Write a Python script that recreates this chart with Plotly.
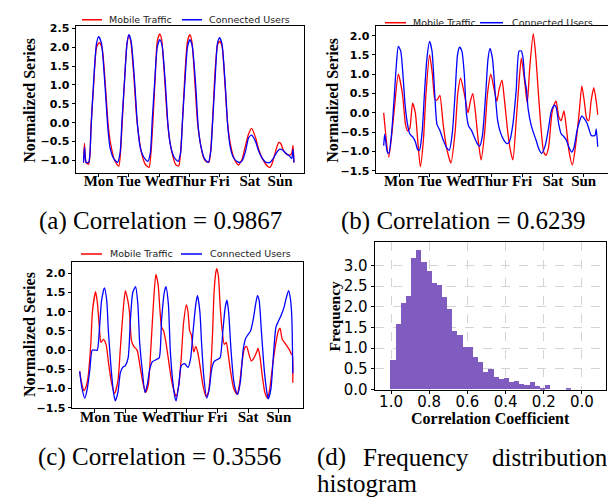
import numpy as np
import plotly.graph_objects as go

# ---------------- data ----------------
day_ticks = [12, 36, 60, 84, 108, 132, 156]
day_labels = ["Mon", "Tue", "Wed", "Thur", "Fri", "Sat", "Sun"]
series_names = ["Mobile Traffic", "Connected Users"]

# (a) correlation = 0.9867
a_mobile_h = [0, 0.7, 2, 4, 5, 6, 8, 10.3, 12.5, 14.6, 17.3, 19.4, 21.2, 24.7, 28, 29.5, 31, 33, 34.5, 36, 37.5, 40, 42, 44, 46,
              49, 52, 53.5, 55, 57, 58.5, 60.5, 62, 64.5, 66.5, 68.5, 71, 73, 75.5, 77, 78.5, 80.5, 82.5, 84.4, 86, 88.5, 90.5,
              92.5, 95, 97, 99.5, 101, 102.5, 104.5, 106.3, 108, 109.8, 112.3, 114.3, 116.5, 119, 121, 123, 124.5, 126, 128.6,
              131, 133.4, 136.6, 139, 142, 146, 148, 150, 152.5, 155, 156.5, 159, 162, 164, 165.3, 166.3, 167]
a_mobile_v = [-1.05, -0.55, -1.05, -1.1, -0.9, -0.05, 1.0, 2.0, 2.12, 2.0, 1.0, 0.0, -0.5, -1.0, -1.15, -0.7, 0.2, 1.4, 2.1, 2.3,
              2.15, 1.2, 0.2, -0.4, -0.8, -1.1, -1.18, -0.8, 0.0, 1.3, 2.15, 2.35, 2.2, 1.1, 0.1, -0.5, -0.9, -1.1, -1.15, -0.8,
              0.0, 1.3, 2.15, 2.33, 2.15, 1.0, 0.0, -0.5, -0.9, -1.02, -1.05, -0.7, 0.1, 1.4, 2.05, 2.15, 2.05, 1.0, 0.0, -0.55,
              -0.9, -1.05, -1.12, -1.05, -0.95, -0.6, -0.3, -0.15, -0.4, -0.7, -0.95, -1.15, -1.18, -1.05, -0.75, -0.52, -0.55,
              -0.75, -0.85, -0.85, -0.8, -0.6, -1.05]
a_users_h = [0, 0.7, 2, 4, 5, 6, 8, 10.3, 12, 14.2, 17, 19.2, 21, 24, 27, 29, 30.5, 32.5, 34.5, 36, 37.8, 40.5, 42.8, 45, 48, 51,
             53, 54.5, 56.5, 58.5, 60.5, 62.3, 65, 67, 69, 72, 75, 77, 78.5, 80.5, 82.5, 84.4, 86.2, 89, 91, 93, 96, 99, 101,
             102.5, 104.5, 106.3, 108, 109.8, 112.5, 114.5, 116.5, 119, 122, 124.5, 126, 128.6, 131, 133.4, 136.6, 139, 142,
             145, 148, 150.5, 153.5, 155.7, 158, 161, 163.5, 165.3, 166.3, 167]
a_users_v = [-1.05, -0.65, -1.05, -1.05, -0.85, -0.1, 1.1, 2.1, 2.28, 2.1, 1.0, -0.1, -0.65, -0.95, -1.05, -0.8, 0.05, 1.1, 2.1,
             2.33, 2.15, 1.1, -0.05, -0.65, -0.92, -1.02, -0.8, 0.05, 1.1, 2.0, 2.2, 2.05, 1.0, -0.05, -0.6, -0.92, -1.02, -0.8,
             0.05, 1.1, 2.0, 2.2, 2.05, 1.0, -0.1, -0.6, -0.95, -1.05, -0.75, 0.05, 1.2, 2.1, 2.25, 2.1, 1.0, -0.1, -0.65, -0.92,
             -1.03, -1.05, -1.0, -0.75, -0.4, -0.33, -0.5, -0.75, -0.95, -1.05, -1.05, -0.95, -0.78, -0.7, -0.72, -0.82, -0.88,
             -0.95, -0.7, -1.05]

# (b) correlation = 0.6239
b_mobile_h = [0, 4, 8, 11.4, 14.6, 17, 18.6, 20.4, 22.5, 24.7, 26.5, 28.6, 31, 33, 35.8, 38, 40, 41.6, 43.8, 46.4, 49, 52.5,
              55.7, 57.8, 60, 62.9, 65.8, 67.6, 69.5, 71.6, 73.7, 76, 78.8, 81, 83.6, 86.2, 88.3, 90, 92.3, 94, 96.8, 99, 100.8,
              103.4, 105.6, 107.4, 110, 112, 114, 116.7, 118.6, 120.7, 122.5, 124.7, 126.5, 128.6, 131.3, 133.4, 134.5, 136.6,
              138.5, 140.6, 142.4, 144.6, 147.2, 149.9, 152.5, 154.6, 156.5, 158.4, 160, 161.8, 163.9, 165.8, 167]
b_mobile_v = [0.0, -1.15, 0.0, 1.0, 0.5, -0.3, -0.47, -0.4, 0.25, 0.0, -0.7, -1.4, -0.7, 0.5, 1.5, 1.0, 0.35, 0.33, 0.45, -0.3,
              -0.9, -1.3, -0.5, 0.5, 0.9, 0.5, 0.0, 0.3, 0.5, 0.0, -0.7, -1.22, -0.5, 0.5, 1.0, 0.6, 0.3, 0.6, 0.85, 0.4, -0.5,
              -1.0, -1.22, -0.2, 0.8, 1.42, 0.8, 0.25, 1.2, 2.05, 1.5, 0.5, -0.3, -1.0, -1.1, -0.9, 0.0, 0.25, 0.3, -0.1, -0.2,
              0.05, -0.35, -1.0, -1.35, -0.8, 0.0, 0.7, 0.3, -0.15, -0.2, 0.3, 0.65, 0.3, -0.05]
b_users_h = [0, 0.8, 2.7, 4, 6, 8, 9.8, 11.4, 13.3, 15, 16.7, 18.6, 20.4, 22.5, 24.7, 26.5, 27.9, 30, 31.8, 33.7, 35.8, 37.7,
             39.8, 41.6, 43.8, 46.4, 49, 51.2, 53.6, 55.7, 57.6, 59.2, 61, 62.9, 64.5, 66.3, 68.4, 70.3, 73, 74.8, 77, 79.6,
             81.4, 83, 84.9, 87, 88.9, 91, 93.6, 96.3, 98.1, 100.8, 103.4, 105.6, 107.4, 108.8, 110, 111.4, 112.7, 114.9,
             116.7, 118.8, 121.2, 123.3, 126, 128.6, 130.8, 133.2, 134.5, 136.6, 138.5, 140.6, 142.4, 144.6, 146.7, 148.5,
             150.6, 152.5, 154.6, 156.5, 158.4, 160, 161.8, 163.7, 165, 165.8, 167]
b_users_v = [-0.85, -0.55, -1.0, -1.05, -0.6, 0.3, 1.2, 1.72, 1.6, 1.0, 0.2, -0.3, -0.55, -0.62, -0.75, -0.95, -0.97, -0.5, 0.5,
             1.4, 1.85, 1.6, 0.5, -0.3, -0.45, -0.7, -0.9, -0.97, -0.5, 0.5, 1.5, 1.7, 1.6, 1.0, 0.0, -0.35, -0.45, -0.6, -0.8,
             -0.87, -0.6, 0.5, 1.4, 1.67, 1.4, 0.5, -0.2, -0.5, -0.7, -0.8, -0.75, -0.3, 0.6, 1.6, 1.6, 1.4, 0.9, 0.6, 0.1,
             -0.3, -0.5, -0.7, -0.95, -1.05, -0.85, -0.4, 0.05, 0.2, 0.15, -0.3, -0.55, -0.62, -0.7, -0.9, -1.02, -0.9, -0.5,
             -0.25, -0.08, -0.15, -0.25, -0.4, -0.58, -0.6, -0.58, -0.42, -0.88]

# (c) correlation = 0.3556
c_mobile_h = [0, 1.5, 3.4, 5, 6.6, 8.8, 10, 12.5, 14, 15.4, 16.7, 18.6, 20.7, 22.5, 24.7, 27.3, 30, 31.8, 34, 35.8, 37.7, 39,
              40.6, 42.4, 45, 47.7, 49.9, 51.7, 53.8, 55.7, 57.8, 59.7, 61.5, 62.9, 64.2, 65.8, 67.6, 69.8, 72.1, 74.3, 75.6,
              77.7, 79.6, 81.4, 83.6, 84.9, 86.2, 87.5, 89.4, 91, 92.8, 94.7, 96.8, 99, 100.8, 102.7, 104.2, 105.3, 106.6,
              107.4, 108.8, 110, 111.4, 113.3, 114.9, 116, 118, 120.7, 123.3, 125.2, 127.3, 129.2, 130.8, 132.6, 134.5, 136.6,
              138.7, 139.8, 141.4, 143.2, 145.1, 147.2, 149, 151.2, 153.8, 155.7, 157, 158.6, 160.5, 162.6, 164.5, 165.8,
              166.6, 167]
c_mobile_v = [-0.55, -0.85, -1.05, -0.95, -0.7, 0.2, 1.0, 1.52, 1.2, 0.6, 0.2, 0.28, 0.15, -0.3, -0.8, -1.13, -0.8, 0.0, 1.0,
              1.55, 1.3, 1.0, 0.25, 0.1, 0.0, -0.5, -0.9, -1.1, -0.9, 0.0, 1.2, 1.97, 1.7, 1.05, 0.6, 0.5, 0.2, -0.3, -0.8, -1.1,
              -1.2, -0.9, -0.2, 0.7, 1.18, 1.0, 0.5, 0.4, -0.05, 0.1, -0.1, -0.5, -0.95, -1.2, -1.1, -0.5, 0.5, 1.5, 2.0, 2.12,
              1.9, 1.2, 0.6, 0.15, 0.2, 0.0, -0.5, -1.0, -1.15, -0.9, -0.3, 0.05, 0.1, -0.1, -0.28, -0.2, -0.05, 0.05, -0.2,
              -0.7, -1.1, -1.25, -1.0, -0.4, 0.2, 0.5, 0.57, 0.3, 0.2, 0.1, 0.0, -0.1, -0.12, -0.85]
c_users_h = [0, 1.9, 4, 6, 8, 9.8, 12, 13.8, 15.4, 17.2, 19.4, 21.2, 22.5, 24.7, 26.5, 27.9, 30, 31.8, 33.7, 35.8, 38, 39.8,
             41.6, 43.8, 45.6, 47, 49, 51.2, 53, 54.9, 57, 59.7, 62.3, 64.2, 66.3, 67.6, 69.5, 71, 72.9, 74.8, 75.6, 77.7,
             79.6, 82.2, 84.9, 87, 88.9, 91, 92.3, 94.2, 95.5, 97.3, 99.5, 101.6, 103.4, 105.3, 107.4, 110, 112.2, 114, 115.4,
             116.7, 118.6, 120.7, 122.8, 123.9, 126, 128.1, 130, 131.8, 133.9, 136, 137.9, 139.3, 140.6, 142.4, 144.6, 146.7,
             147.7, 149.9, 151.7, 153.8, 155.7, 157.8, 160, 161.8, 163.7, 165.3, 166.3, 167]
c_users_v = [-0.55, -1.0, -1.25, -1.0, -0.5, 0.0, 0.0, 0.0, 0.5, 1.3, 1.62, 1.3, 0.5, -0.5, -1.1, -1.32, -1.1, -0.6, -0.45, -0.4,
             -0.2, 0.8, 1.5, 1.65, 1.2, 0.2, -0.5, -1.1, -0.9, -0.5, -0.3, -0.25, -0.2, 0.8, 1.5, 1.65, 1.2, 0.0, -0.8, -1.25,
             -1.32, -0.9, -0.4, -0.35, -0.45, -0.2, 0.5, 1.2, 1.42, 1.0, 0.2, -0.7, -1.25, -1.0, -0.5, -0.3, -0.25, -0.2, 0.5,
             1.1, 1.3, 1.0, 0.0, -0.8, -1.1, -1.15, -0.8, 0.0, 0.3, 0.4, 0.5, 0.8, 1.2, 1.42, 1.3, 0.5, -0.5, -1.1, -1.27,
             -1.0, -0.2, 0.6, 0.75, 0.9, 1.1, 1.35, 1.55, 1.3, 0.8, -0.6]

# (d) histogram of correlation coefficients (bins run from 1.0 downwards)
hist_freq = [0.71, 1.57, 2.09, 2.26, 3.18, 3.37, 3.08, 2.87, 2.58, 2.51, 2.22, 1.93, 1.41, 1.32, 1.03, 1.03, 0.78, 0.67,
             0.43, 0.50, 0.31, 0.24, 0.27, 0.18, 0.19, 0.13, 0.10, 0.17, 0.08, 0.03, 0.10, 0.0, 0.0, 0.0, 0.03]
hist_bin_start = 1.003
hist_bin_width = 0.027
hist_xticks = [1.0, 0.8, 0.6, 0.4, 0.2, 0.0]
hist_yticks = [0.0, 0.5, 1.0, 1.5, 2.0, 2.5, 3.0]

# ---------------- figure ----------------
W, H = 616, 497
RED, BLUE, PURPLE = "#ff0000", "#0000ff", "#805cc0"
SERIES_COLORS = [RED, BLUE]


def px(x):
    return x / W


def py(y):
    return 1 - y / H


fig = go.Figure()

panels = [
    ("x", "y", a_mobile_h, a_mobile_v, a_users_h, a_users_v),
    ("x2", "y2", b_mobile_h, b_mobile_v, b_users_h, b_users_v),
    ("x3", "y3", c_mobile_h, c_mobile_v, c_users_h, c_users_v),
]
for xa, ya, mh, mv, uh, uv in panels:
    for (hh, vv), name, col in zip([(mh, mv), (uh, uv)], series_names, SERIES_COLORS):
        fig.add_trace(go.Scatter(x=hh, y=vv, mode="lines", name=name, showlegend=False,
                                 line=dict(color=col, width=1.3, shape="spline", smoothing=0.6),
                                 xaxis=xa, yaxis=ya))

centers = hist_bin_start - hist_bin_width * (np.arange(len(hist_freq)) + 0.5)
fig.add_trace(go.Bar(x=centers, y=hist_freq, width=hist_bin_width,
                     marker=dict(color=PURPLE, line=dict(width=0)),
                     xaxis="x4", yaxis="y4", showlegend=False))

bold_serif = dict(family="Liberation Serif", color="black", weight="bold")
tick_ts_x = dict(family="Liberation Serif", size=15, color="black", weight="bold")
tick_ts_y = dict(family="DejaVu Sans", size=11, color="black", weight="bold")

common = dict(showline=True, linecolor="black", linewidth=1, mirror=True, zeroline=False,
              ticks="outside", ticklen=3.5, tickwidth=1, tickcolor="black")


def ts_xaxis(dom, anchor):
    return dict(domain=dom, anchor=anchor, range=[-6, 175], tickvals=day_ticks, ticktext=day_labels,
                tickangle=0, tickfont=tick_ts_x, ticklabelstandoff=-9, showgrid=False, **common)


def ts_yaxis(dom, anchor, rng):
    return dict(domain=dom, anchor=anchor, range=rng, dtick=0.5, tick0=0, tickformat=".1f",
                tickfont=tick_ts_y, showgrid=False, **common)


top_dom = [py(166), py(15)]
bot_dom = [py(407), py(257)]

fig.update_layout(
    width=W, height=H, autosize=False,
    margin=dict(l=0, r=0, t=0, b=0),
    paper_bgcolor="white", plot_bgcolor="white",
    bargap=0, showlegend=False,
    xaxis=ts_xaxis([px(68), px(296)], "y"),
    yaxis=ts_yaxis(top_dom, "x", [-1.33, 2.57]),
    xaxis2=ts_xaxis([px(368), px(600)], "y2"),
    yaxis2=ts_yaxis(top_dom, "x2", [-1.56, 2.26]),
    xaxis3=ts_xaxis([px(64), px(295)], "y3"),
    yaxis3=ts_yaxis(bot_dom, "x3", [-1.51, 2.3]),
    xaxis4=dict(domain=[px(367), px(598)], anchor="y4", range=[1.084, -0.126], tickvals=hist_xticks,
                tickformat=".1f", tickangle=0, ticklabelstandoff=-5,
                tickfont=dict(family="DejaVu Sans", size=15, color="black"),
                showgrid=True, gridcolor="#d4d4d4", griddash="dash", gridwidth=1, **common),
    yaxis4=dict(domain=[py(388), py(237)], anchor="x4", range=[0, 3.56], tickvals=hist_yticks, tickformat=".1f",
                tickfont=dict(family="DejaVu Sans", size=15, color="black"),
                showgrid=True, gridcolor="#d4d4d4", griddash="dash", gridwidth=1, **common),
)

ann = []
shapes = []

# legends drawn above each time-series panel (line sample + label)
legend_spots = [  # (y, red line x0, x1, red text x, blue line x0, x1, blue text x)
    (9, 74, 94, 99, 174, 194, 199),
    (12, 377, 398, 403, 472, 495, 502),
    (249, 73, 94, 100, 173, 194, 200),
]
for y, r0, r1, rt, b0, b1, bt in legend_spots:
    for (l0, l1, tx), name, col in zip([(r0, r1, rt), (b0, b1, bt)], series_names, SERIES_COLORS):
        shapes.append(dict(type="line", xref="paper", yref="paper", x0=px(l0), x1=px(l1), y0=py(y), y1=py(y),
                           line=dict(color=col, width=1.5)))
        ann.append(dict(x=px(tx), y=py(y), text=name, showarrow=False, xref="paper", yref="paper",
                        xanchor="left", yanchor="middle",
                        font=dict(family="DejaVu Sans", size=9.5, color="#222222")))

# axis titles
for x, y in [(22, 92), (325, 92), (22, 332)]:
    ann.append(dict(x=px(x), y=py(y), text="Normalized Series", textangle=-90, showarrow=False,
                    xref="paper", yref="paper", xanchor="center", yanchor="middle",
                    font=dict(size=16, **bold_serif)))
ann.append(dict(x=px(326), y=py(313), text="Frequency", textangle=-90, showarrow=False,
                xref="paper", yref="paper", xanchor="center", yanchor="middle",
                font=dict(size=15.5, **bold_serif)))
ann.append(dict(x=px(482), y=py(418), text="Correlation Coefficient", showarrow=False,
                xref="paper", yref="paper", xanchor="center", yanchor="middle",
                font=dict(size=16, **bold_serif)))

# sub-captions
cap_font = dict(family="Liberation Serif", size=25, color="black")
for x, y, t, xa in [(29, 215.5, "(a) Correlation = 0.9867", "left"),
                    (331, 215.5, "(b) Correlation = 0.6239", "left"),
                    (28, 457.5, "(c) Correlation = 0.3556", "left"),
                    (307, 457.5, "(d)", "left"),
                    (353, 457.5, "Frequency", "left"),
                    (602, 457.5, "distribution", "right"),
                    (307, 484.5, "histogram", "left")]:
    ann.append(dict(x=px(x), y=py(y), text=t, showarrow=False, xref="paper", yref="paper",
                    xanchor=xa, yanchor="middle", font=cap_font))

fig.update_layout(annotations=ann, shapes=shapes)
fig.write_html("out.html")
